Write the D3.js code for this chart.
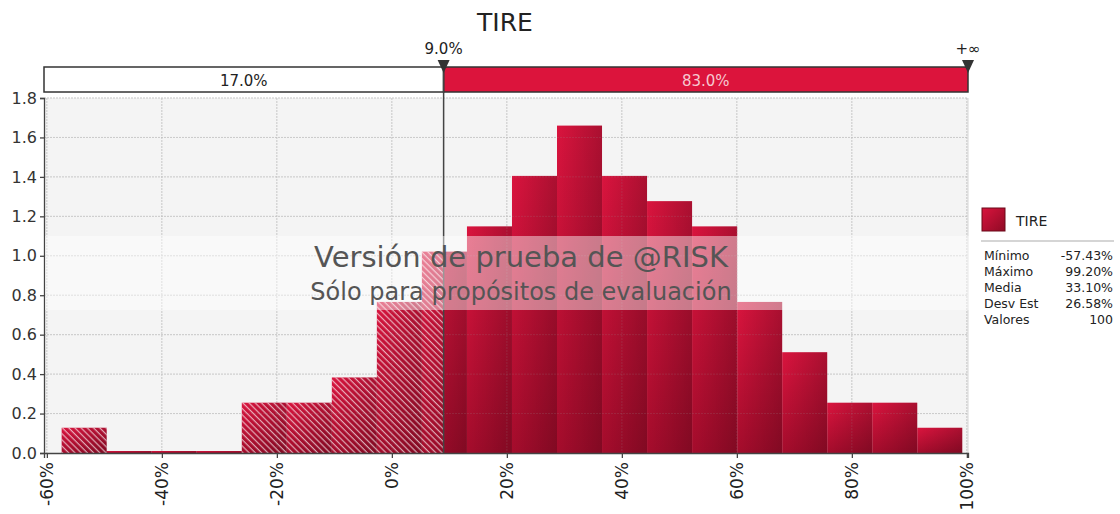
<!DOCTYPE html>
<html lang="es">
<head>
    <meta charset="UTF-8">
    <title>TIRE</title>
    <script src="https://cdnjs.cloudflare.com/ajax/libs/d3/7.8.5/d3.min.js"></script>
    <style>
        body { margin: 0; background: #fff; }
        text { font-family: "DejaVu Sans", Verdana, sans-serif; }
    </style>
</head>
<body>
<div id="draw-here"></div>
<script>
    // histogram bins (TIRE, 100 values)
    var binEdges = [-57.43, -49.60, -41.77, -33.94, -26.10, -18.27, -10.44, -2.61, 5.22, 13.06,
        20.89, 28.72, 36.55, 44.38, 52.21, 60.05, 67.88, 75.71, 83.54, 91.37, 99.20];
    var density = [0.128, 0, 0, 0, 0.255, 0.255, 0.383, 0.766, 1.021, 1.149,
        1.405, 1.660, 1.405, 1.277, 1.149, 0.766, 0.511, 0.255, 0.255, 0.128];

    var splitValue = 9.0;
    var splitLabels = ["9.0%", "+\u221e"];
    var splitShares = ["17.0%", "83.0%"];

    var xTicks = [-60, -40, -20, 0, 20, 40, 60, 80, 100];
    var yTicks = [0, 0.2, 0.4, 0.6, 0.8, 1.0, 1.2, 1.4, 1.6, 1.8];

    var statLabels = ["M\u00ednimo", "M\u00e1ximo", "Media", "Desv Est", "Valores"];
    var statValues = ["-57.43%", "99.20%", "33.10%", "26.58%", "100"];

    var w = 1120, h = 514;
    // plot box (note: "top" is taken by window.top, so prefix these)
    var pLeft = 44, pRight = 968, pTop = 98, pBottom = 453;

    var svg = d3.select("#draw-here").append("svg")
        .attr("width", w).attr("height", h);

    var x = d3.scaleLinear().domain([-60.5, 100.2]).range([pLeft, pRight]);
    var y = d3.scaleLinear().domain([0, 1.8]).range([pBottom, pTop]);

    var defs = svg.append("defs");

    var bins = density.map(function (d, i) {
        return {i: i, lo: binEdges[i], hi: binEdges[i + 1], v: d};
    });
    var barTopOf = function (b) { return b.v > 0 ? y(b.v) : pBottom - 2; };

    // vertical fill per bin: bright at the bar's top, darker at the base
    var vg = defs.selectAll(".vg").data(bins).enter()
        .append("linearGradient")
        .attr("id", function (d) { return "v" + d.i; })
        .attr("gradientUnits", "userSpaceOnUse")
        .attr("x1", 0).attr("x2", 0)
        .attr("y1", function (d) { return barTopOf(d); })
        .attr("y2", pBottom);
    vg.append("stop").attr("offset", "0%").attr("stop-color", "#da143e");
    vg.append("stop").attr("offset", "100%").attr("stop-color", "#a50c2c");

    // horizontal shade per bin, so split bars keep the shading of the whole bar
    var hg = defs.selectAll(".hg").data(bins).enter()
        .append("linearGradient")
        .attr("id", function (d) { return "s" + d.i; })
        .attr("gradientUnits", "userSpaceOnUse")
        .attr("x1", function (d) { return x(d.lo); })
        .attr("x2", function (d) { return x(d.hi); })
        .attr("y1", 0).attr("y2", 0);
    hg.append("stop").attr("offset", "0%").attr("stop-color", "#000").attr("stop-opacity", 0);
    hg.append("stop").attr("offset", "100%").attr("stop-color", "#000").attr("stop-opacity", 0.22);

    var legGrad = defs.append("linearGradient").attr("id", "leg")
        .attr("x1", 0).attr("y1", 0).attr("x2", 1).attr("y2", 1);
    legGrad.append("stop").attr("offset", "0%").attr("stop-color", "#d9143d");
    legGrad.append("stop").attr("offset", "100%").attr("stop-color", "#8f0a25");

    defs.append("pattern").attr("id", "hatch")
        .attr("patternUnits", "userSpaceOnUse")
        .attr("width", 4.4).attr("height", 4.4)
        .attr("patternTransform", "rotate(-45)")
        .append("line")
        .attr("x1", 1.2).attr("y1", 0).attr("x2", 1.2).attr("y2", 4.4)
        .attr("stroke", "#fff").attr("stroke-opacity", 0.65).attr("stroke-width", 1.2);

    // title
    svg.append("text").attr("x", 505).attr("y", 31)
        .attr("text-anchor", "middle").attr("font-size", 25).attr("fill", "#222")
        .text("TIRE");

    // plot background + grid
    svg.append("rect").attr("x", pLeft).attr("y", pTop)
        .attr("width", pRight - pLeft).attr("height", pBottom - pTop)
        .attr("fill", "#f4f4f4");

    function drawGrid(stroke, opacity) {
        var g = svg.append("g").attr("stroke", stroke).attr("stroke-opacity", opacity)
            .attr("stroke-dasharray", "2,1");
        g.selectAll(".gx").data(xTicks).enter().append("line")
            .attr("x1", function (d) { return x(d); }).attr("x2", function (d) { return x(d); })
            .attr("y1", pTop).attr("y2", pBottom);
        g.selectAll(".gy").data(yTicks.slice(1)).enter().append("line")
            .attr("x1", pLeft).attr("x2", pRight)
            .attr("y1", function (d) { return y(d); }).attr("y2", function (d) { return y(d); });
    }
    drawGrid("#d4d4d4", 1);
    svg.append("line").attr("x1", pRight).attr("x2", pRight).attr("y1", pTop).attr("y2", pBottom)
        .attr("stroke", "#d6d6d6");

    // bars, split into the part left of 9% (hatched) and right of it (solid)
    var parts = [];
    bins.forEach(function (b) {
        if (b.lo < splitValue) parts.push({b: b, lo: b.lo, hi: Math.min(b.hi, splitValue), hatch: true});
        if (b.hi > splitValue) parts.push({b: b, lo: Math.max(b.lo, splitValue), hi: b.hi, hatch: false});
    });

    function barRects(data, fill) {
        svg.append("g").selectAll("rect").data(data).enter().append("rect")
            .attr("x", function (d) { return x(d.lo); })
            .attr("width", function (d) { return x(d.hi) - x(d.lo); })
            .attr("y", function (d) { return barTopOf(d.b); })
            .attr("height", function (d) { return pBottom - barTopOf(d.b); })
            .attr("fill", fill);
    }
    barRects(parts, function (d) { return "url(#v" + d.b.i + ")"; });
    barRects(parts, function (d) { return "url(#s" + d.b.i + ")"; });
    barRects(parts.filter(function (d) { return d.hatch && d.b.v > 0; }), "url(#hatch)");

    // faint grid showing through the bars
    drawGrid("#999", 0.18);

    // axes
    var yAxis = svg.append("g").attr("transform", "translate(" + pLeft + ",0)")
        .call(d3.axisLeft(y).tickValues(yTicks).tickFormat(d3.format(".1f"))
            .tickSize(4).tickSizeOuter(4).tickPadding(3));
    yAxis.selectAll("text").attr("font-size", 16).attr("fill", "#333")
        .style("font-family", "'DejaVu Sans', sans-serif");
    yAxis.selectAll("line, path").attr("stroke", "#444").attr("stroke-width", 1.3);

    var xAxis = svg.append("g").attr("transform", "translate(0," + pBottom + ")")
        .call(d3.axisBottom(x).tickValues(xTicks).tickFormat(function (d) { return d + "%"; })
            .tickSize(5).tickSizeOuter(5));
    xAxis.selectAll("line, path").attr("stroke", "#444").attr("stroke-width", 1.3);
    xAxis.selectAll("text")
        .attr("font-size", 17).attr("fill", "#222")
        .style("font-family", "'DejaVu Sans', sans-serif")
        .attr("text-anchor", "end")
        .attr("transform", "rotate(-90)")
        .attr("x", -9).attr("y", 0).attr("dy", "0.35em");

    // split marker header
    var headTop = 67, headBot = 92;
    svg.append("rect").attr("x", pLeft).attr("y", headTop)
        .attr("width", x(splitValue) - pLeft).attr("height", headBot - headTop)
        .attr("fill", "#fff").attr("stroke", "#333").attr("stroke-width", 1.5);
    svg.append("rect").attr("x", x(splitValue)).attr("y", headTop)
        .attr("width", pRight - x(splitValue)).attr("height", headBot - headTop)
        .attr("fill", "#dc143c").attr("stroke", "#333").attr("stroke-width", 1.5);
    svg.append("text").attr("x", (pLeft + x(splitValue)) / 2).attr("y", 86)
        .attr("text-anchor", "middle").attr("font-size", 15).attr("fill", "#222")
        .text(splitShares[0]);
    svg.append("text").attr("x", (x(splitValue) + pRight) / 2).attr("y", 86)
        .attr("text-anchor", "middle").attr("font-size", 15).attr("fill", "#f6c8d0")
        .text(splitShares[1]);

    svg.append("line").attr("x1", x(splitValue)).attr("x2", x(splitValue))
        .attr("y1", headTop).attr("y2", pBottom)
        .attr("stroke", "#444").attr("stroke-width", 1.5);

    var markerX = [x(splitValue), pRight];
    svg.append("g").selectAll("path").data(markerX).enter().append("path")
        .attr("d", function (d) { return "M" + (d - 6) + ",60L" + (d + 6) + ",60L" + d + ",73Z"; })
        .attr("fill", "#333");
    svg.append("g").selectAll("text").data(splitLabels).enter().append("text")
        .attr("x", function (d, i) { return markerX[i]; }).attr("y", 54)
        .attr("text-anchor", "middle").attr("font-size", 15).attr("fill", "#222")
        .text(function (d) { return d; });

    // legend
    svg.append("rect").attr("x", 982).attr("y", 208).attr("width", 23).attr("height", 23)
        .attr("fill", "url(#leg)").attr("stroke", "#6a0818");
    svg.append("text").attr("x", 1016).attr("y", 226).attr("font-size", 14).attr("fill", "#222")
        .text("TIRE");
    svg.append("line").attr("x1", 981).attr("x2", 1114).attr("y1", 241).attr("y2", 241)
        .attr("stroke", "#999").attr("stroke-width", 1.5);

    // trial watermark band (drawn under the legend stats so they stay dark)
    svg.append("rect").attr("x", pLeft + 1).attr("y", 236).attr("width", w - pLeft).attr("height", 74)
        .attr("fill", "#fff").attr("opacity", 0.45);

    var stats = svg.append("g");
    stats.selectAll(".lab").data(statLabels).enter().append("text")
        .attr("x", 984).attr("y", function (d, i) { return 260 + i * 16; })
        .attr("font-size", 12.5).attr("fill", "#222").text(function (d) { return d; });
    stats.selectAll(".val").data(statValues).enter().append("text")
        .attr("x", 1113).attr("y", function (d, i) { return 260 + i * 16; })
        .attr("text-anchor", "end").attr("font-size", 12.5).attr("fill", "#222")
        .text(function (d) { return d; });

    svg.append("text").attr("x", 521).attr("y", 267)
        .attr("text-anchor", "middle").attr("font-size", 29).attr("fill", "#555")
        .text("Versi\u00f3n de prueba de @RISK");
    svg.append("text").attr("x", 521).attr("y", 300)
        .attr("text-anchor", "middle").attr("font-size", 24).attr("fill", "#555")
        .text("S\u00f3lo para prop\u00f3sitos de evaluaci\u00f3n");
</script>
</body>
</html>
